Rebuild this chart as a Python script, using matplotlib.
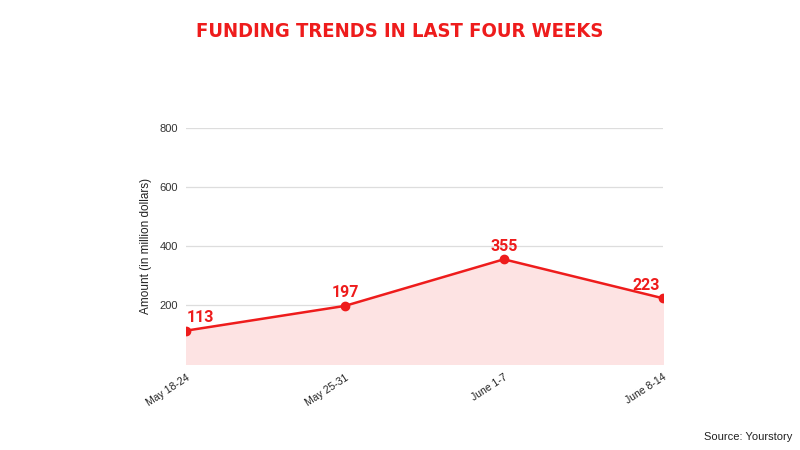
import matplotlib.pyplot as plt

weeks = ['May 18-24', 'May 25-31', 'June 1-7', 'June 8-14']
amounts = [113, 197, 355, 223]
yticks = [200, 400, 600, 800]

red = '#ee1c1c'
plt.rcParams['font.family'] = ['Liberation Sans', 'DejaVu Sans']

fig = plt.figure(figsize=(8, 4.5), dpi=100)
ax = fig.add_axes([0.2325, 0.1911, 0.596, 0.5244])

x = list(range(len(weeks)))
ax.fill_between(x, amounts, 0, color='#fde3e3', zorder=1)
ax.plot(x, amounts, color=red, lw=1.8, marker='o', ms=6, zorder=3)

# value labels, nudged inward at the edges
offsets = [10, 0, 0, -12]
for xi, v, dx in zip(x, amounts, offsets):
    ax.annotate(str(v), (xi, v), xytext=(dx, 4), textcoords='offset points',
                ha='center', va='bottom', color=red, fontsize=11.5, fontweight='bold',
                family=['Roboto', 'DejaVu Sans'])

ax.set_xlim(0, 3)
ax.set_ylim(0, 800)
ax.set_yticks(yticks)
ax.set_yticklabels([str(t) for t in yticks], fontsize=8, color='#333333')
ax.set_xticks(x)
ax.set_xticklabels(weeks, rotation=33, ha='right', rotation_mode='anchor',
                   fontsize=7.5, color='#222222')
ax.tick_params(length=0, pad=6)
ax.grid(axis='y', color='#dddddd', lw=0.9, zorder=0)
ax.set_axisbelow(True)
for s in ax.spines.values():
    s.set_visible(False)
ax.set_ylabel('Amount (in million dollars)', fontsize=8.5, color='#222222', labelpad=5)

fig.text(0.5, 0.93, 'FUNDING TRENDS IN LAST FOUR WEEKS', ha='center', va='center',
         color=red, fontsize=14.5, fontweight='bold', fontstretch='condensed',
         family=['DejaVu Sans'])
fig.text(0.99, 0.03, 'Source: Yourstory', ha='right', va='center', fontsize=8, color='#222222')

fig.savefig('out.png', dpi=100)
